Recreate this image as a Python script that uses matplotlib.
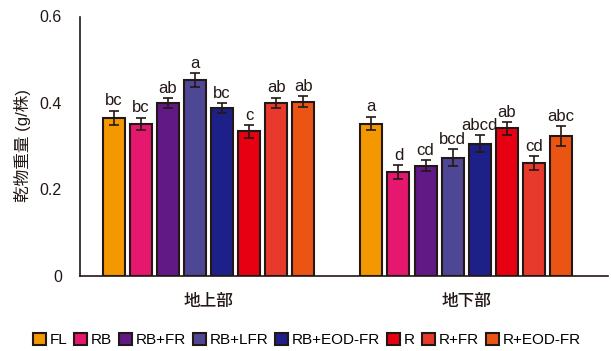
import matplotlib.pyplot as plt
import numpy as np

plt.rcParams['font.family'] = ['Liberation Sans', 'Noto Sans CJK JP']

# treatments and plant parts
TREATMENTS = ['FL', 'RB', 'RB+FR', 'RB+LFR', 'RB+EOD-FR', 'R', 'R+FR', 'R+EOD-FR']
PARTS = ['地上部', '地下部']
COLORS = ['#F39800', '#E5176F', '#611986', '#4E4796', '#1D2088',
          '#E60012', '#E83A2C', '#EA5514']

# dry weight (g/plant), standard errors and significance letters
shoot = [0.365, 0.352, 0.400, 0.453, 0.388, 0.334, 0.400, 0.403]
shoot_err = [0.017, 0.014, 0.011, 0.016, 0.012, 0.015, 0.012, 0.012]
shoot_sig = ['bc', 'bc', 'ab', 'a', 'bc', 'c', 'ab', 'ab']

root = [0.352, 0.240, 0.254, 0.273, 0.305, 0.341, 0.260, 0.323]
root_err = [0.016, 0.016, 0.013, 0.019, 0.020, 0.015, 0.016, 0.024]
root_sig = ['a', 'd', 'cd', 'bcd', 'abcd', 'ab', 'cd', 'abc']

EDGE = '#231815'
STEP = 0.105
WIDTH = 0.0854

fig = plt.figure(figsize=(6.11, 3.51), dpi=100)
ax = fig.add_axes([80 / 611, 75.5 / 351, 528 / 611, 259 / 351])

values = np.array([shoot, root])
errors = np.array([shoot_err, root_err])
letters = [shoot_sig, root_sig]
centers = np.arange(len(PARTS))

for i, name in enumerate(TREATMENTS):
    x = centers + (i - 3.5) * STEP
    ax.bar(x, values[:, i], width=WIDTH, color=COLORS[i], edgecolor=EDGE,
           linewidth=1.5, label=name, zorder=2)
    ax.errorbar(x, values[:, i], yerr=errors[:, i], fmt='none', ecolor=EDGE,
                elinewidth=1.2, capsize=3.5, capthick=1.2, zorder=3)
    for j in range(len(PARTS)):
        ax.text(x[j], values[j, i] + errors[j, i] + 0.005, letters[j][i],
                ha='center', va='bottom', fontsize=12, color=EDGE)

ax.set_xlim(-0.499, 1.551)
ax.set_ylim(0, 0.6)
ax.set_yticks([0, 0.2, 0.4, 0.6])
ax.set_yticklabels(['0', '0.2', '0.4', '0.6'])
ax.set_xticks(centers)
ax.set_xticklabels(PARTS, fontsize=12, fontweight='medium')
ax.tick_params(axis='y', length=0, pad=13, labelsize=11.5, labelcolor=EDGE)
ax.tick_params(axis='x', length=0, pad=13, labelcolor=EDGE)
ax.set_ylabel('乾物重量 (g/株)', fontsize=12, color=EDGE, labelpad=6)

for side in ['top', 'right']:
    ax.spines[side].set_visible(False)
for side in ['left', 'bottom']:
    ax.spines[side].set_color(EDGE)
    ax.spines[side].set_linewidth(1.2)

leg = fig.legend(loc='center', bbox_to_anchor=(0.502, 0.031), ncol=8,
                 frameon=False, fontsize=11, handlelength=0.85,
                 handleheight=0.85, handletextpad=0.25, columnspacing=0.45)
for h in leg.legend_handles:
    h.set_linewidth(1.5)

fig.savefig('out.png', dpi=100)
